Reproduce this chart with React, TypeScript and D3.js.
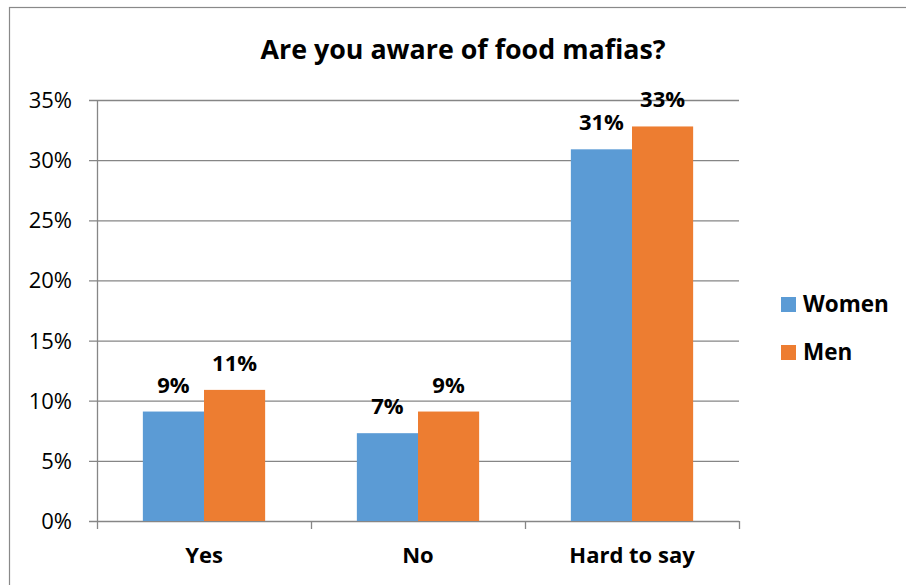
import React from "react";
import * as d3 from "d3";

const categories = ["Yes", "No", "Hard to say"];
const seriesNames = ["Women", "Men"];
const women = [0.091, 0.073, 0.309];
const men = [0.109, 0.091, 0.328];
const womenLabels = ["9%", "7%", "31%"];
const menLabels = ["11%", "9%", "33%"];
const yTicks = [0, 0.05, 0.1, 0.15, 0.2, 0.25, 0.3, 0.35];
const colors = ["#5B9BD5", "#ED7D31"];

const W = 906;
const H = 585;
const left = 97;
const right = 739;
const top = 100;
const bottom = 521;
const font = "'Open Sans', sans-serif";

export default function App() {
  const x = d3.scaleBand<string>().domain(categories).range([left, right]).paddingInner(0).paddingOuter(0);
  const inner = d3.scaleBand<string>().domain(seriesNames).range([0, x.bandwidth()]).paddingInner(0).paddingOuter(0.75);
  const y = d3.scaleLinear().domain([0, 0.35]).range([bottom, top]);
  const series = [women, men];
  const labels = [womenLabels, menLabels];
  const fmt = d3.format(".0%");

  return (
    <svg width={W} height={H} style={{ position: "absolute", left: 0, top: 0 }}>
      <rect x={0} y={0} width={W} height={H} fill="#fff" />
      <rect x={9.5} y={7.5} width={W + 10} height={H + 10} fill="none" stroke="#898989" strokeWidth={1.2} />
      <text x={463} y={59} textAnchor="middle" fontFamily={font} fontWeight="bold" fontSize={26} fill="#000"
        textLength={405} lengthAdjust="spacingAndGlyphs">
        Are you aware of food mafias?
      </text>
      {yTicks.map((t) => (
        <g key={t}>
          <line x1={left - 8} x2={right} y1={y(t) + 0.5} y2={y(t) + 0.5} stroke="#868686" strokeWidth={1.3} />
          <text x={72} y={y(t) + 8} textAnchor="end" fontFamily={font} fontSize={22} fill="#000">
            {fmt(t)}
          </text>
        </g>
      ))}
      <line x1={left + 0.5} x2={left + 0.5} y1={top} y2={bottom} stroke="#868686" strokeWidth={1.3} />
      {[...categories.map((c) => x(c)!), right].map((v, i) => (
        <line key={i} x1={v + 0.5} x2={v + 0.5} y1={bottom} y2={bottom + 8} stroke="#868686" strokeWidth={1.3} />
      ))}
      {categories.map((c, ci) =>
        seriesNames.map((s, si) => {
          const bx = x(c)! + inner(s)!;
          const v = series[si][ci];
          return (
            <g key={c + s}>
              <rect x={bx} y={y(v)} width={inner.bandwidth()} height={bottom - y(v)} fill={colors[si]} />
              <text
                x={bx + inner.bandwidth() / 2}
                y={y(v) - 19}
                textAnchor="middle"
                fontFamily={font}
                fontWeight="bold"
                fontSize={22}
                fill="#000"
              >
                {labels[si][ci]}
              </text>
            </g>
          );
        })
      )}
      {categories.map((c) => (
        <text
          key={c}
          x={x(c)! + x.bandwidth() / 2}
          y={563}
          textAnchor="middle"
          fontFamily={font}
          fontWeight="bold"
          fontSize={22}
          fill="#000"
        >
          {c}
        </text>
      ))}
      {seriesNames.map((s, i) => (
        <g key={s}>
          <rect x={781} y={297 + i * 48} width={15} height={15} fill={colors[i]} />
          <text x={803} y={312 + i * 48} fontFamily={font} fontWeight="bold" fontSize={22.5} fill="#000">
            {s}
          </text>
        </g>
      ))}
    </svg>
  );
}
